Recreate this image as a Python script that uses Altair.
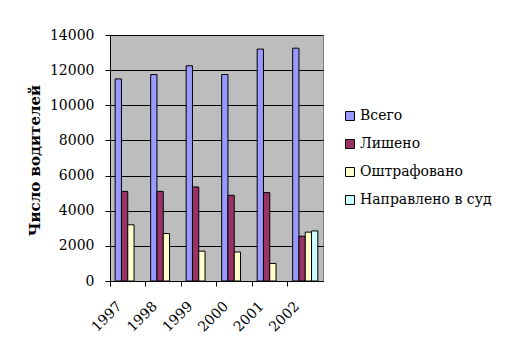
import altair as alt
import pandas as pd

years = ["1997", "1998", "1999", "2000", "2001", "2002"]
series = ["Всего", "Лишено", "Оштрафовано", "Направлено в суд"]
vsego = [11500, 11750, 12250, 11750, 13200, 13250]
lisheno = [5100, 5100, 5350, 4880, 5030, 2550]
oshtraf = [3200, 2700, 1700, 1650, 1000, 2780]
sud_years = ["2002"]
sud = [2850]
colors = ["#9999FF", "#993366", "#FFFFCC", "#CCFFFF"]
y_ticks = [0, 2000, 4000, 6000, 8000, 10000, 12000, 14000]

rows = []
for s, vals in zip(series[:3], [vsego, lisheno, oshtraf]):
    for yr, v in zip(years, vals):
        rows.append({"year": yr, "series": s, "value": v})
for yr, v in zip(sud_years, sud):
    rows.append({"year": yr, "series": series[3], "value": v})
df = pd.DataFrame(rows)

FONT = "DejaVu Serif"

chart = alt.Chart(df).mark_bar(stroke="black", strokeWidth=1).encode(
    x=alt.X("year:N", sort=years,
            scale=alt.Scale(domain=years, paddingInner=0, paddingOuter=0),
            axis=alt.Axis(title=None, labelAngle=-45, bandPosition=0,
                          labelOffset=-13, labelPadding=13, tickSize=5,
                          labelFont=FONT, labelFontSize=14, labelColor="black",
                          domainColor="black", tickColor="black",
                          labelAlign="right", labelBaseline="top")),
    xOffset=alt.XOffset("series:N",
                        scale=alt.Scale(domain=series, paddingInner=0, paddingOuter=0.82)),
    y=alt.Y("value:Q",
            scale=alt.Scale(domain=[0, 14000], nice=False),
            axis=alt.Axis(title="Число водителей", values=y_ticks, grid=True, format="d",
                          gridColor="black", gridOpacity=1, tickSize=5,
                          labelPadding=11, labelFont=FONT, labelFontSize=14,
                          labelColor="black", domainColor="black", tickColor="black",
                          titleFont=FONT, titleFontSize=15, titleFontWeight="bold",
                          titleColor="black", titleX=-68, titleY=125,
                          titleAlign="center", titleBaseline="bottom")),
    color=alt.Color("series:N",
                    scale=alt.Scale(domain=series, range=colors),
                    legend=alt.Legend(title=None, orient="none", legendX=233, legendY=74,
                                      symbolType="square", symbolSize=81,
                                      symbolStrokeColor="black", symbolStrokeWidth=1,
                                      labelFont=FONT, labelFontSize=14, labelColor="black",
                                      rowPadding=14, labelOffset=3)),
).properties(
    width=213, height=246,
    autosize=alt.AutoSizeParams(type="none"),
    padding={"left": 110, "top": 35, "right": 186, "bottom": 77},
).configure(
    font=FONT
).configure_view(
    fill="#BDBDBD", stroke="#808080"
)

chart.save("out.html", embed_options={"renderer": "svg", "actions": False})
